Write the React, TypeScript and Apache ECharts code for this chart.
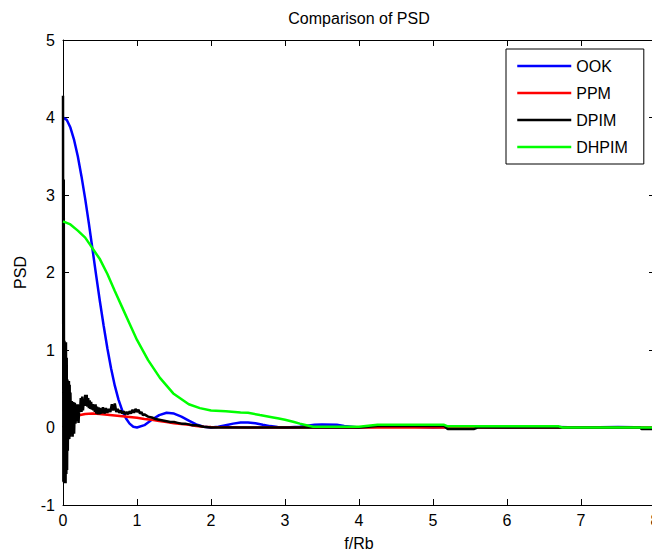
import React, { useEffect, useRef } from "react";
import * as echarts from "echarts";

const legendNames = ["OOK", "PPM", "DPIM", "DHPIM"];
const xTicks = [0, 1, 2, 3, 4, 5, 6, 7, 8];

const xOOK = [0, 0.05, 0.1, 0.15, 0.2, 0.25, 0.3, 0.35, 0.4, 0.45, 0.5, 0.55, 0.6, 0.65, 0.7, 0.75, 0.8, 0.85, 0.9, 0.95, 1.0,
  1.1, 1.2, 1.3, 1.4, 1.5, 1.6, 1.7, 1.8, 1.9, 2.0, 2.1, 2.2, 2.3, 2.4, 2.5, 2.6, 2.7, 2.8, 2.9, 3.0,
  3.2, 3.4, 3.5, 3.7, 3.8, 4.0, 4.5, 5.0, 5.5, 6.0, 6.5, 7.0, 7.5, 8.0];
const yOOK = [4.0, 3.97, 3.87, 3.71, 3.5, 3.24, 2.95, 2.63, 2.29, 1.95, 1.62, 1.31, 1.02, 0.76, 0.54, 0.36, 0.22, 0.12, 0.05, 0.01, 0.0,
  0.03, 0.1, 0.16, 0.19, 0.18, 0.14, 0.09, 0.04, 0.01, 0.0, 0.01, 0.03, 0.05, 0.065, 0.065, 0.055, 0.036, 0.018, 0.005, 0.0,
  0.01, 0.035, 0.04, 0.035, 0.02, 0.0, 0.02, 0.0, 0.013, 0.0, 0.01, 0.0, 0.007, 0.0];

const xPPM = [0, 0.05, 0.1, 0.15, 0.2, 0.3, 0.4, 0.5, 0.6, 0.7, 0.8, 0.9, 1.0, 1.1, 1.2, 1.3, 1.4, 1.5, 1.6, 1.7, 1.8, 1.9, 2.0, 2.5, 3.0, 4.0, 5.0, 6.0, 7.0, 8.0];
const yPPM = [0.0, 0.06, 0.1, 0.13, 0.155, 0.175, 0.18, 0.175, 0.165, 0.155, 0.145, 0.135, 0.125, 0.11, 0.1, 0.085, 0.07, 0.055, 0.045, 0.035, 0.02, 0.01, 0.005, 0.0, 0.0, 0.0, 0.0, 0.0, 0.0, 0.0];

const xDPIM = [0, 0.005, 0.01, 0.015, 0.02, 0.025, 0.03, 0.035, 0.04, 0.045, 0.05, 0.055, 0.06, 0.065, 0.07, 0.075, 0.08, 0.085, 0.09, 0.095,
  0.1, 0.11, 0.12, 0.13, 0.14, 0.15, 0.16, 0.17, 0.18, 0.19,
  0.2, 0.21, 0.22, 0.23, 0.24, 0.25, 0.26, 0.27, 0.28, 0.29, 0.3, 0.31, 0.32, 0.33, 0.34, 0.35, 0.36, 0.37, 0.38, 0.39,
  0.4, 0.41, 0.42, 0.43, 0.44, 0.45, 0.46, 0.47, 0.48, 0.49, 0.5,
  0.52, 0.54, 0.56, 0.58, 0.6, 0.62, 0.64, 0.66, 0.68, 0.7, 0.72, 0.74, 0.76, 0.78, 0.8, 0.82, 0.84, 0.86, 0.88, 0.9,
  0.92, 0.94, 0.96, 0.98, 1.0, 1.02, 1.04, 1.06, 1.08, 1.1,
  1.15, 1.2, 1.25, 1.3, 1.35, 1.4, 1.45, 1.5, 1.55, 1.6, 1.65, 1.7, 1.75, 1.8, 1.85, 1.9, 2.0,
  2.5, 3.0, 4.0, 4.25, 5.15, 5.2, 5.55, 5.6, 7.8, 7.82, 8.0];
const yDPIM = [4.28, -0.7, 3.2, -0.72, 1.12, -0.7, 1.1, -0.72, 1.1, -0.6, 0.9, -0.55, 0.62, -0.3, 0.6, -0.12, 0.6, -0.15, 0.55, -0.12,
  0.45, -0.05, 0.34, -0.12, 0.33, -0.08, 0.32, 0.05, 0.3, 0.08,
  0.3, 0.06, 0.28, 0.2, 0.38, 0.2, 0.4, 0.22, 0.35, 0.28, 0.42, 0.28, 0.42, 0.27, 0.38, 0.25, 0.35, 0.24, 0.33, 0.23,
  0.3, 0.22, 0.3, 0.2, 0.3, 0.18, 0.27, 0.17, 0.26, 0.17, 0.25,
  0.18, 0.26, 0.18, 0.25, 0.19, 0.24, 0.2, 0.3, 0.22, 0.31, 0.2, 0.24, 0.19, 0.22, 0.18, 0.21, 0.17, 0.2, 0.17, 0.21,
  0.18, 0.23, 0.19, 0.24, 0.2, 0.23, 0.18, 0.2, 0.16, 0.17,
  0.14, 0.13, 0.11, 0.1, 0.09, 0.08, 0.07, 0.07, 0.06, 0.05, 0.05, 0.04, 0.03, 0.03, 0.02, 0.01, 0.0,
  0.0, 0.0, 0.0, 0.02, 0.02, -0.02, -0.02, 0.0, 0.0, -0.02, -0.02];

const xDHPIM = [0, 0.1, 0.2, 0.3, 0.365, 0.4, 0.5, 0.6, 0.7, 0.8, 0.9, 1.0, 1.15, 1.31, 1.49, 1.7, 1.85, 2.0, 2.2, 2.4, 2.5, 2.66, 2.84, 2.9, 3.0, 3.11, 3.2, 3.29, 3.38, 3.5, 4.0, 4.25, 5.15, 5.2, 6.7, 6.75, 8.0];
const yDHPIM = [2.66, 2.62, 2.54, 2.45, 2.36, 2.31, 2.17, 1.98, 1.76, 1.55, 1.34, 1.13, 0.87, 0.64, 0.44, 0.3, 0.25, 0.22, 0.21, 0.195, 0.19, 0.16, 0.13, 0.12, 0.1, 0.075, 0.05, 0.03, 0.01, 0.01, 0.01, 0.035, 0.035, 0.015, 0.015, 0.0, 0.0];

const pairs = (xs: number[], ys: number[]) => xs.map((x, i) => [x, ys[i]]);

const FONT = "'Liberation Sans', Arial, sans-serif";

export default function App() {
  const ref = useRef<HTMLDivElement>(null);
  useEffect(() => {
    if (!ref.current) return;
    const chart = echarts.init(ref.current, null, { renderer: "svg" });
    const colors = ["#0000ff", "#ff0000", "#000000", "#00ff00"];
    const datasets = [pairs(xOOK, yOOK), pairs(xPPM, yPPM), pairs(xDPIM, yDPIM), pairs(xDHPIM, yDHPIM)];
    const axisCommon = {
      axisLine: { show: true, onZero: false, lineStyle: { color: "#000", width: 1 } },
      axisTick: { show: true, inside: true, length: 6, lineStyle: { color: "#000" } },
      splitLine: { show: false },
    };
    chart.setOption({
      animation: false,
      backgroundColor: "#fff",
      textStyle: { fontFamily: FONT },
      grid: { left: 63, top: 40, right: -3, bottom: 47, containLabel: false, outerBoundsMode: "none" },
      graphic: [
        {
          type: "text",
          x: 359,
          y: 18,
          style: { text: "Comparison of PSD", align: "center", verticalAlign: "middle", fontSize: 16, fontFamily: FONT, fill: "#000" },
        },
      ],
      legend: {
        data: legendNames,
        orient: "vertical",
        left: 506,
        top: 49,
        itemWidth: 54,
        itemHeight: 14,
        itemGap: 11,
        padding: [9, 16, 9, 10],
        backgroundColor: "#fff",
        borderColor: "#000",
        borderWidth: 1,
        borderRadius: 0,
        itemStyle: { opacity: 0 },
        lineStyle: { width: 2.5 },
        textStyle: { fontSize: 16, color: "#000", fontFamily: FONT },
      },
      xAxis: [
        {
          type: "value",
          min: 0,
          max: 8,
          interval: 1,
          name: "f/Rb",
          nameLocation: "middle",
          nameGap: 30,
          nameTextStyle: { fontSize: 16, color: "#000", fontFamily: FONT },
          axisLabel: { color: "#000", fontSize: 16, margin: 7, fontFamily: FONT, formatter: (v: number) => (xTicks.includes(v) ? String(v) : "") },
          ...axisCommon,
        },
        {
          type: "value",
          position: "top",
          min: 0,
          max: 8,
          interval: 1,
          axisLabel: { show: false },
          ...axisCommon,
        },
      ],
      yAxis: [
        {
          type: "value",
          min: -1,
          max: 5,
          interval: 1,
          name: "PSD",
          nameLocation: "middle",
          nameGap: 35,
          nameTextStyle: { fontSize: 16, color: "#000", fontFamily: FONT },
          axisLabel: { color: "#000", fontSize: 16, margin: 8, fontFamily: FONT },
          ...axisCommon,
        },
        {
          type: "value",
          position: "right",
          min: -1,
          max: 5,
          interval: 1,
          axisLabel: { show: false },
          ...axisCommon,
        },
      ],
      series: legendNames.map((name, i) => ({
        name,
        type: "line",
        data: datasets[i],
        symbol: "none",
        showSymbol: false,
        color: colors[i],
        lineStyle: { color: colors[i], width: 2.5 },
        z: 2 + i,
      })),
    });
    return () => chart.dispose();
  }, []);
  return <div ref={ref} style={{ position: "absolute", left: 0, top: 0, width: 652, height: 552 }} />;
}
